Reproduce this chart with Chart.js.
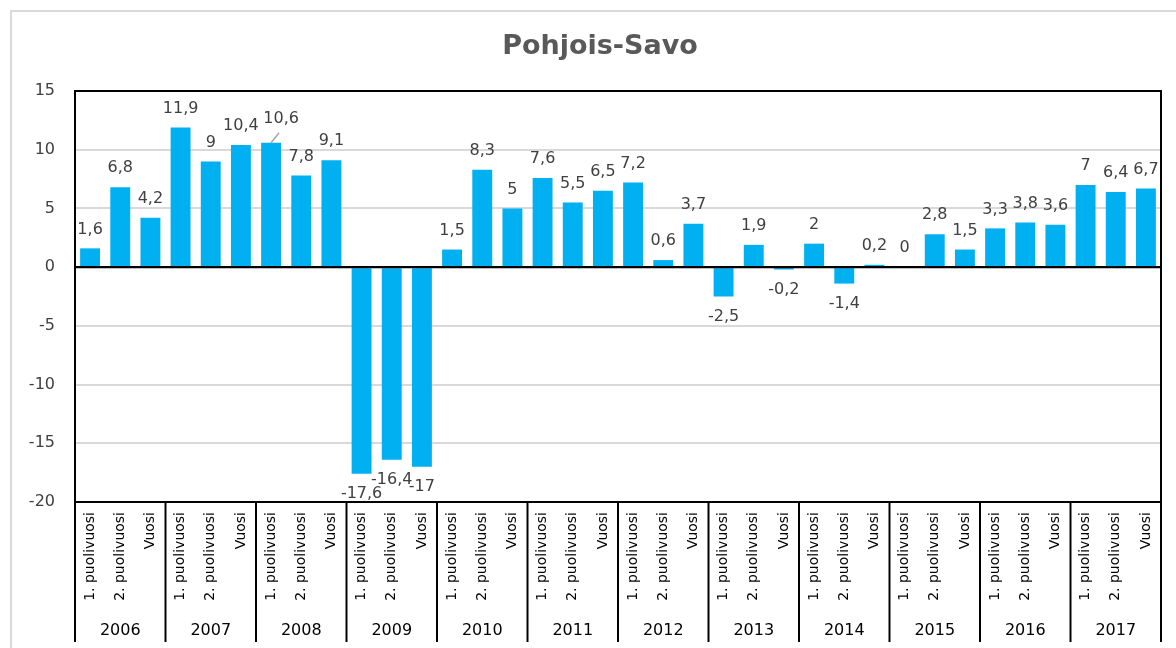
<!DOCTYPE html>
<html>
<head>
<meta charset="utf-8">
<script src="https://cdn.jsdelivr.net/npm/chart.js@4.4.1/dist/chart.umd.min.js"></script>
<style>
  html, body { margin: 0; padding: 0; background: #fff; }
  canvas { display: block; }
</style>
</head>
<body>
<canvas id="chart" width="1176" height="648"></canvas>
<script>
// --- Data ---
const years = ['2006', '2007', '2008', '2009', '2010', '2011', '2012', '2013', '2014', '2015', '2016', '2017'];
const periods = ['1. puolivuosi', '2. puolivuosi', 'Vuosi'];
const firstHalf = [1.6, 11.9, 10.6, -17.6, 1.5, 7.6, 7.2, -2.5, 2, 0, 3.3, 7];
const secondHalf = [6.8, 9, 7.8, -16.4, 8.3, 5.5, 0.6, 1.9, -1.4, 2.8, 3.8, 6.4];
const fullYear = [4.2, 10.4, 9.1, -17, 5, 6.5, 3.7, -0.2, 0.2, 1.5, 3.6, 6.7];
const yMin = -20;
const yMax = 15;
const yStep = 5;
const chartTitle = 'Pohjois-Savo';

// interleave into one row per category: year x period
const labels = [];
const values = [];
years.forEach((y, i) => {
    labels.push(periods[0], periods[1], periods[2]);
    values.push(firstHalf[i], secondHalf[i], fullYear[i]);
});

const fmt = (v) => String(v).replace('.', ',');

// labels that Excel moved away from the bar (index -> shift)
const labelNudge = { 6: { dx: 10, dy: -5 } };

const decorPlugin = {
    id: 'decor',
    beforeDraw(chart) {
        const ctx = chart.ctx;
        ctx.save();
        ctx.fillStyle = '#fff';
        ctx.fillRect(0, 0, chart.width, chart.height);
        // outer chart frame (runs off the right/bottom edge)
        ctx.strokeStyle = '#d9d9d9';
        ctx.lineWidth = 2;
        ctx.beginPath();
        ctx.moveTo(11, chart.height);
        ctx.lineTo(11, 11);
        ctx.lineTo(chart.width, 11);
        ctx.stroke();
        // title, centred on the full (cropped) chart frame
        ctx.font = 'bold 27px "DejaVu Sans"';
        ctx.fillStyle = '#595959';
        ctx.textAlign = 'center';
        ctx.textBaseline = 'middle';
        ctx.fillText(chartTitle, 600, 47);
        ctx.restore();
    },
    afterDatasetsDraw(chart) {
        const ctx = chart.ctx;
        const area = chart.chartArea;
        const xs = chart.scales.x;
        const x2 = chart.scales.x2;
        const ys = chart.scales.y;
        ctx.save();

        // zero line and plot frame
        ctx.strokeStyle = '#000';
        ctx.lineWidth = 2;
        const y0 = ys.getPixelForValue(0);
        ctx.beginPath();
        ctx.moveTo(area.left, y0);
        ctx.lineTo(area.right, y0);
        ctx.stroke();
        ctx.strokeRect(area.left, area.top, area.right - area.left, area.bottom - area.top);

        // year group separators under the axis
        const half = (xs.getPixelForValue(1) - xs.getPixelForValue(0)) / 2;
        for (let g = 0; g <= years.length; g++) {
            const px = g < years.length ? xs.getPixelForValue(g * 3) - half : xs.getPixelForValue(values.length - 1) + half;
            ctx.beginPath();
            ctx.moveTo(px, area.bottom);
            ctx.lineTo(px, x2.bottom - 6);
            ctx.stroke();
        }

        // value labels
        const meta = chart.getDatasetMeta(0);
        ctx.font = '16px "DejaVu Sans"';
        ctx.fillStyle = '#404040';
        ctx.textAlign = 'center';
        ctx.textBaseline = 'middle';
        meta.data.forEach((bar, i) => {
            const v = values[i];
            let lx = bar.x;
            let ly = v < 0 ? bar.y + 20 : bar.y - 19;
            const n = labelNudge[i];
            if (n) {
                lx += n.dx;
                ly += n.dy;
                ctx.strokeStyle = '#a6a6a6';
                ctx.lineWidth = 1.5;
                ctx.beginPath();
                ctx.moveTo(bar.x, bar.y);
                ctx.lineTo(bar.x + n.dx * 0.8, bar.y - 10);
                ctx.stroke();
            }
            ctx.fillText(fmt(v), lx, ly);
        });
        ctx.restore();
    }
};

new Chart(document.getElementById('chart'), {
    type: 'bar',
    data: {
        labels: labels,
        datasets: [{
            data: values,
            backgroundColor: '#00B0F0',
            barPercentage: 0.66,
            categoryPercentage: 1.0
        }]
    },
    options: {
        responsive: false,
        animation: false,
        layout: { padding: { left: 0, right: 15, top: 91, bottom: 0 } },
        plugins: {
            legend: { display: false },
            tooltip: { enabled: false },
            title: { display: false }
        },
        scales: {
            x: {
                position: 'bottom',
                grid: { display: false, drawTicks: false },
                border: { display: false },
                ticks: {
                    autoSkip: false,
                    minRotation: 90,
                    maxRotation: 90,
                    padding: 10,
                    color: '#000',
                    font: { family: '"DejaVu Sans"', size: 14 }
                },
                afterFit: (s) => { s.height = 110; }
            },
            x2: {
                type: 'category',
                labels: years,
                position: 'bottom',
                offset: true,
                grid: { display: false, drawTicks: false },
                border: { display: false },
                ticks: {
                    autoSkip: false,
                    maxRotation: 0,
                    padding: 9,
                    color: '#000',
                    font: { family: '"DejaVu Sans"', size: 16 }
                },
                afterFit: (s) => { s.height = 36; }
            },
            y: {
                min: yMin,
                max: yMax,
                ticks: {
                    stepSize: yStep,
                    padding: 20,
                    color: '#404040',
                    font: { family: '"DejaVu Sans"', size: 16 },
                    callback: (v) => fmt(v)
                },
                grid: {
                    drawTicks: false,
                    color: (c) => c.tick && c.tick.value === 0 ? '#000' : '#d9d9d9',
                    lineWidth: 2
                },
                border: { display: false },
                afterFit: (s) => { s.width = 75; }
            }
        }
    },
    plugins: [decorPlugin]
});
</script>
</body>
</html>
